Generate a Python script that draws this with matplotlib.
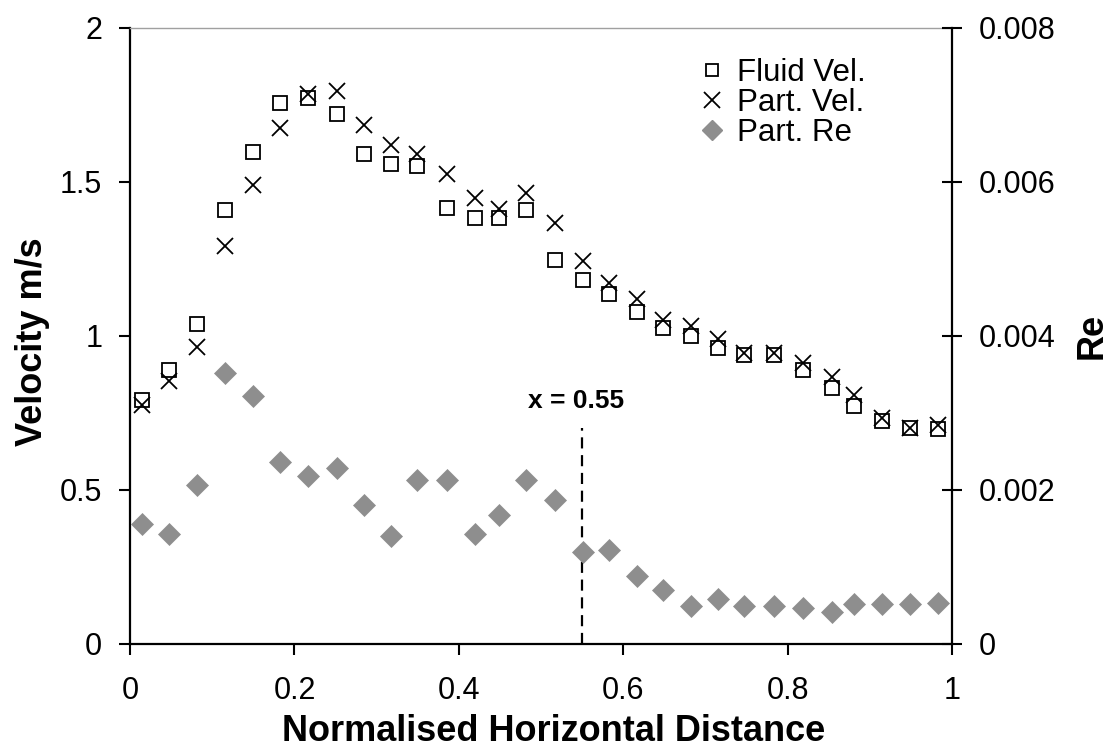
import matplotlib
matplotlib.use('Agg')
import matplotlib.pyplot as plt
from matplotlib.lines import Line2D

plt.rcParams['font.family'] = ['Liberation Sans', 'DejaVu Sans']

# normalised horizontal position of each measuring point
dist = [0.014, 0.048, 0.082, 0.116, 0.150, 0.182, 0.216, 0.252, 0.284, 0.317,
        0.349, 0.385, 0.420, 0.449, 0.482, 0.517, 0.551, 0.582, 0.616, 0.648,
        0.682, 0.715, 0.747, 0.783, 0.818, 0.854, 0.881, 0.915, 0.949, 0.983]

fluid_vel = [0.792, 0.890, 1.039, 1.409, 1.597, 1.757, 1.772, 1.720, 1.591, 1.558,
             1.550, 1.415, 1.382, 1.382, 1.409, 1.247, 1.182, 1.136, 1.077, 1.027,
             1.000, 0.962, 0.938, 0.938, 0.890, 0.832, 0.773, 0.723, 0.702, 0.697]

part_vel = [0.776, 0.854, 0.965, 1.290, 1.489, 1.676, 1.786, 1.795, 1.683, 1.619,
            1.591, 1.526, 1.447, 1.413, 1.463, 1.366, 1.244, 1.171, 1.121, 1.050,
            1.031, 0.990, 0.944, 0.944, 0.913, 0.868, 0.808, 0.735, 0.700, 0.711]

part_re = [0.00156, 0.00143, 0.00207, 0.00352, 0.00322, 0.00236, 0.00218, 0.00228,
           0.00180, 0.00140, 0.00213, 0.00213, 0.00143, 0.00167, 0.00213, 0.00187,
           0.00119, 0.00122, 0.00088, 0.00070, 0.00049, 0.00059, 0.00049, 0.00049,
           0.00047, 0.00042, 0.00052, 0.00052, 0.00052, 0.00053]

x_cut = 0.55
x_ticks = [0, 0.2, 0.4, 0.6, 0.8, 1]
x_ticklabels = ['0', '0.2', '0.4', '0.6', '0.8', '1']
v_ticks = [0, 0.5, 1, 1.5, 2]
v_ticklabels = ['0', '0.5', '1', '1.5', '2']
re_ticks = [0, 0.002, 0.004, 0.006, 0.008]
re_ticklabels = ['0', '0.002', '0.004', '0.006', '0.008']

fig = plt.figure(figsize=(11.12, 7.49), dpi=100)
ax = fig.add_axes([0.1169, 0.1402, 0.7395, 0.8228])
ax2 = ax.twinx()

grey = '#8e8e8e'

ax.plot(dist, fluid_vel, 's', ms=10, mfc='white', mec='black', mew=1.3, ls='none')
ax.plot(dist, part_vel, 'x', ms=12, mec='black', mew=1.3, ls='none')
ax2.plot(dist, part_re, 'D', ms=11, mfc=grey, mec=grey, mew=0.5, ls='none')

# cut-off line
ax.vlines(x_cut, 0, 0.70, colors='black', linestyles=(0, (5, 3)), lw=1.6)
ax.text(x_cut - 0.008, 0.75, 'x = 0.55', ha='center', va='bottom',
        fontsize=19, fontweight='bold')

ax.set_xlim(0, 1)
ax.set_ylim(0, 2)
ax2.set_ylim(0, 0.008)

ax.set_xticks(x_ticks)
ax.set_xticklabels(x_ticklabels)
ax.set_yticks(v_ticks)
ax.set_yticklabels(v_ticklabels)
ax2.set_yticks(re_ticks)
ax2.set_yticklabels(re_ticklabels)

ax.tick_params(axis='both', direction='out', length=8, width=1.5, labelsize=22)
ax.tick_params(axis='x', pad=15)
ax.tick_params(axis='y', pad=12)
ax2.tick_params(axis='y', direction='inout', length=14, width=1.5, labelsize=22, pad=12)

for side in ['left', 'bottom']:
    ax.spines[side].set_linewidth(1.6)
ax.spines['right'].set_visible(False)
ax.spines['top'].set_color('#a0a0a0')
ax.spines['top'].set_linewidth(1.0)
for side in ['left', 'bottom', 'top']:
    ax2.spines[side].set_visible(False)
ax2.spines['right'].set_linewidth(1.6)

ax.set_xlabel('Normalised Horizontal Distance', fontsize=26, fontweight='bold')
ax.xaxis.set_label_coords(0.515, -0.113)
ax.xaxis.label.set_va('top')
ax.set_ylabel('Velocity m/s', fontsize=26, fontweight='bold')
ax.yaxis.set_label_coords(-0.097, 0.49)
ax2.set_ylabel('Re', fontsize=26, fontweight='bold')
ax2.yaxis.set_label_coords(1.149, 0.50)

handles = [
    Line2D([], [], marker='s', ms=9, mfc='white', mec='black', mew=1.3, ls='none'),
    Line2D([], [], marker='x', ms=11, mec='black', mew=1.3, ls='none'),
    Line2D([], [], marker='D', ms=10, mfc=grey, mec=grey, ls='none'),
]
ax2.legend(handles, ['Fluid Vel.', 'Part. Vel.', 'Part. Re'], loc='upper left',
           bbox_to_anchor=(696 / 1112, 1 - 58 / 749), bbox_transform=fig.transFigure,
           frameon=False, fontsize=22.5, handlelength=1.0, handletextpad=0.3,
           labelspacing=0.0, borderpad=0, borderaxespad=0)

fig.savefig('out.png', dpi=100)
